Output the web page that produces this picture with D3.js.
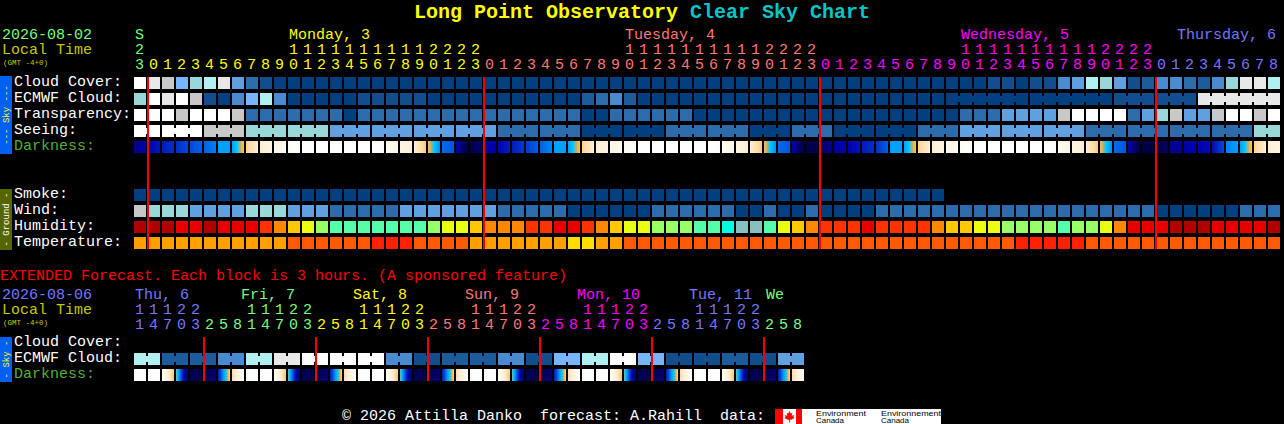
<!DOCTYPE html>
<html>
<head>
<meta charset="utf-8">
<script src="https://cdn.jsdelivr.net/npm/d3@7/dist/d3.min.js"></script>
<style>
html,body{margin:0;padding:0;background:#000;overflow:hidden}
svg{display:block}
text{font-family:"Liberation Mono","DejaVu Sans Mono",monospace;white-space:pre}
</style>
</head>
<body>
<script>
// ---------- DATA (levels) ----------
const hours = [23,0,1,2,3,4,5,6,7,8,9,10,11,12,13,14,15,16,17,18,19,20,21,22,23,
  0,1,2,3,4,5,6,7,8,9,10,11,12,13,14,15,16,17,18,19,20,21,22,23,
  0,1,2,3,4,5,6,7,8,9,10,11,12,13,14,15,16,17,18,19,20,21,22,23,
  0,1,2,3,4,5,6,7,8];
const hourDayCounts = [1,24,24,24,9];
const dayNames = ["S","Monday, 3","Tuesday, 4","Wednesday, 5","Thursday, 6"];
const dayCols = [0,11,35,59,74.43];

const extHours = [11,14,17,20,23,2,5,8,11,14,17,20,23,2,5,8,11,14,17,20,23,2,5,8,
  11,14,17,20,23,2,5,8,11,14,17,20,23,2,5,8,11,14,17,20,23,2,5,8];
const extHourDayCounts = [5,8,8,8,8,8,3];
const extDayNames = ["Thu, 6","Fri, 7","Sat, 8","Sun, 9","Mon, 10","Tue, 11","We"];
const extDayCols = [0,7.57,15.57,23.57,31.57,39.57,45.07];

const cloudCover = [11,10,9,6,7,8,10,5,3,1,
  0,0,0,0,0,0,0,0,0,0,0,0,0,0,0,0,0,0,0,0,0,0,0,0,0,0,0,0,0,0,0,0,0,0,0,0,0,0,0,0,0,0,0,0,0,0,0,0,0,0,
  0,1,1,0,1,1,4,5,8,7,5,1,2,4,4,3,2,4,7,10,10,8];
const ecmwfCloud = [7,11,10,11,9,1,0,4,6,8,4,0,0,0,0,0,1,1,1,1,1,
  0,0,0,0,0,0,0,0,0,0,0,2,3,4,2,
  0,0,0,0,0,0,0,0,0,0,0,0,0,0,0,0,0,0,0,0,0,0,
  0,0,0,0,0,0,0,0,0,0,0,0,1,1,1,1,1,1,10,10,10,10,10,10];
const ecmwfGroupSizes = [1,1,1,1,1,1,1,1,1,1,1,1,1,1,1,1,1,1,1,1,1,1,1,1,1,1,1,1,1,1,1,1,1,1,1,1,1,1,1,1,1,1,1,1,1,1,1,1,1,1,1,1,1,1,1,1,1,1,6,6,3,3,6];
const transparency = [11,11,11,9,11,11,11,9,3,3,3,3,3,3,3,0,
  3,3,3,3,3,3,3,3,3,3,3,3,3,3,3,3,0,0,3,3,3,3,3,3,
  0,0,0,0,0,0,0,0,0,0,0,0,0,0,0,0,0,0,0,
  3,3,3,5,5,5,5,9,11,11,11,11,3,5,7,9,5,5,9,11,11,9,11];
const seeingGroupSizes = [2,3,3,3,3,3,3,3,3,3,3,3,3,3,3,3,3,3,3,3,3,3,3,3,3,3,3,2];
const seeingGroupValues = [11,11,9,7,7,5,5,5,5,3,3,0,0,3,3,0,3,0,0,3,5,5,5,3,3,3,3,7];
const darkStart = [1.8,3,3.5,4,4.5,5,6,6,8.8,10,10.8,11.5,12,12,12,12,12,12,11.5,10.8,10,8.4,5.2,3,0.2,
  2.5,3,3.6,4.2,5,6,6,8.8,10,10.8,11.5,12,12,12,12,12,12,11.5,10.8,10,8.4,5.2,3,0,
  1,2.5,3,3.5,4,6,6,8.8,10,10.8,11.5,12,12,12,12,12,12,11.5,10.8,10,8.4,5.2,3,0,
  0.5,2,2.8,3,3.2,5.5,6,8.8,10];
const darkEnd = [2.8,3.5,4,4.5,5,5.5,6,8.5,10,10.5,11.4,11.9,12,12,12,12,12,11.5,10.8,10,8.6,5.6,4.8,0,1.5,
  3,3.6,4.2,5,5.6,6,8.5,10,10.6,11.4,11.9,12,12,12,12,12,11.5,10.8,10,8.6,5.6,4.8,0,0.5,
  2,3,3.4,4,5,6,8.5,10,10.6,11.4,11.9,12,12,12,12,12,11.5,10.8,10,8.6,5.6,4.8,0,0.3,
  1,2.2,3,3.2,4.5,6,8.5,10,10.6];
const smoke = [0,0,0,0,0,0,0,0,0,0,0,0,0,0,0,0,0,0,0,0,0,0,0,0,0,0,0,0,0,
  0,0,0,0,0,0,0,0,0,0,0,0,0,0,0,0,0,0,0,0,0,0,0,0,0,0,0,0,0];
const wind = [9,7,7,7,5,5,5,5,7,7,7,5,5,5,3,3,3,3,3,5,5,5,5,5,5,5,3,3,3,3,3,
  0,0,0,0,0,0,3,3,3,3,3,3,0,0,3,0,0,3,0,0,0,0,
  3,3,3,3,3,3,3,3,3,3,3,3,3,3,3,3,3,3,3,3,0,0,0,0,0,0,3,3,3];
const humidity = [0,0,0,1,1,0,1,1,1,2,3,4,5,6,7,7,7,7,7,7,7,
  6,5,5,4,3,3,3,2,2,1,1,2,3,4,5,5,6,6,6,7,7,8,9,9,7,5,4,3,2,2,2,
  1,2,2,2,2,3,4,4,5,5,6,6,6,6,7,6,6,5,3,1,1,1,0,0,0,1,1,1,1,0];
const temperature = [2,2,2,2,2,2,2,2,2,2,2,1,1,1,1,1,1,0,0,0,1,1,1,1,2,2,2,2,2,2,2,3,3,2,2,
  1,1,1,1,1,1,1,1,1,1,1,1,1,1,1,1,1,1,1,1,1,1,1,1,1,1,1,1,
  0,0,0,0,0,1,1,1,1,1,1,1,1,1,1,1,1,1,1];

const extEcmwf = [8,8,2,2,2,2,4,4,8,8,10,10,11,11,11,11,11,11,4,4,1,1,2,2,
  2,2,4,4,1,1,6,6,8,8,11,11,6,6,1,1,1,1,2,2,1,1,5,5];
const extDarkStart = [12,12,12,7.6,0.5,0.5,3.5,9.2,12,12,12,7.6,0.5,0.5,3.5,9.2,12,12,12,7.6,0.5,0.5,3.5,9.2,
  12,12,12,7.6,0.5,0.5,3.5,9.2,12,12,12,7.6,0.5,0.5,3.5,9.2,12,12,12,7.6,0.5,0.5,3.5,9.2];
const extDarkEnd = [12,12,8.4,0.6,0.5,1.5,8.8,12,12,12,8.4,0.6,0.5,1.5,8.8,12,12,12,8.4,0.6,0.5,1.5,8.8,12,
  12,12,8.4,0.6,0.5,1.5,8.8,12,12,12,8.4,0.6,0.5,1.5,8.8,12,12,12,8.4,0.6,0.5,1.5,8.8,11.5];

const rowLabels = ["Cloud Cover:","ECMWF Cloud:","Transparency:","Seeing:","Darkness:"];
const groundLabels = ["Smoke:","Wind:","Humidity:","Temperature:"];
const extLabels = ["Cloud Cover:","ECMWF Cloud:","Darkness:"];

// ---------- COLOURS ----------
const cloudColors = ["#004080","#124e8e","#1c5c9c","#2c6cac","#4a8ad0","#60a0e0","#77b5ff","#99d8d8","#b0f0f0","#c8c8c8","#e8e8e8","#ffffff"];
const humidityColors = ["#b00000","#e80000","#ff3300","#ff8800","#ffc800","#eaff10","#99ff66","#55ffaa","#00ffe0","#88c0c0"];
const temperatureColors = ["#ff2000","#ff5a00","#ffa000","#ffdd00"];
const darkColors = ["#000040","#000060","#000090","#0000b0","#0030c8","#0060e8","#00a0ff","#00c8ff","#f0b040","#ffd8a0","#ffeed4","#fff6ea","#ffffff"];
const dayColors = ["#77ff77","#ffff00","#ff7777","#ff00ff","#7777ff"];
const extDayColors = ["#7777ff","#77ff77","#ffff00","#ff7777","#ff00ff","#7777ff","#77ff77"];

const cloudScale = d3.scaleOrdinal(d3.range(12), cloudColors);
const humidityScale = d3.scaleOrdinal(d3.range(10), humidityColors);
const temperatureScale = d3.scaleOrdinal(d3.range(4), temperatureColors);
const darkScale = d3.scaleLinear().domain(d3.range(13)).range(darkColors).interpolate(d3.interpolateRgb);

// ---------- LAYOUT ----------
const W = 1284, H = 424;
const STEP = 14, CELL = 12;
const x0 = 134;
const xMain = d3.scaleBand().domain(d3.range(hours.length)).range([x0, x0 + STEP*hours.length - (STEP-CELL)]).paddingInner((STEP-CELL)/STEP);
const xExt = d3.scaleBand().domain(d3.range(extHours.length)).range([x0, x0 + STEP*extHours.length - (STEP-CELL)]).paddingInner((STEP-CELL)/STEP);
const colX = d3.scaleLinear().domain([0,1]).range([x0, x0+STEP]);
const yRow = d3.scaleLinear().domain([0,1]).range([77,93]);

const svg = d3.select("body").append("svg").attr("width",W).attr("height",H).attr("viewBox",`0 0 ${W} ${H}`);
svg.append("rect").attr("width",W).attr("height",H).attr("fill","#000");
const defs = svg.append("defs");

function txt(s,x,y,fill,size=15,attrs={}){
  const t = svg.append("text").attr("x",x).attr("y",y).attr("fill",fill).attr("font-size",size).text(s);
  for(const k in attrs) t.attr(k,attrs[k]);
  return t;
}

function rowCells(values, xs, y, colorFn){
  svg.append("g").selectAll("rect").data(values).join("rect")
    .attr("x",(d,i)=>xs(i)).attr("y",y).attr("width",xs.bandwidth()).attr("height",CELL)
    .attr("fill",(d,i)=>colorFn(d,i)).attr("shape-rendering","crispEdges");
}
function connectors(sizes, xs, y, colorFn){
  let c = 0;
  sizes.forEach(n=>{
    for(let i=0;i<n-1;i++){
      svg.append("rect").attr("x",xs(c+i)+CELL).attr("y",y+3).attr("width",STEP-CELL).attr("height",6)
        .attr("fill",colorFn(c+i)).attr("shape-rendering","crispEdges");
    }
    c += n;
  });
}
let gradId = 0;
function darkRow(starts, ends, xs, y){
  const g = svg.append("g");
  starts.forEach((s,i)=>{
    const id = "dk"+(gradId++);
    const grad = defs.append("linearGradient").attr("id",id);
    const v = d3.scaleLinear().domain([0,1]).range([s,ends[i]]);
    d3.range(0,1.001,0.1).forEach(t=>{
      grad.append("stop").attr("offset",t).attr("stop-color",darkScale(v(t)));
    });
    g.append("rect").attr("x",xs(i)).attr("y",y).attr("width",CELL).attr("height",CELL)
      .attr("fill",`url(#${id})`).attr("shape-rendering","crispEdges");
  });
}
function hourRows(hrs, counts, colors, xs, yTens, yUnits){
  const colorOf = [];
  counts.forEach((n,k)=>{ for(let i=0;i<n;i++) colorOf.push(colors[k]); });
  hrs.forEach((h,i)=>{
    if(h>=10) txt(String(Math.floor(h/10)), xs(i)+1, yTens, colorOf[i]);
    txt(String(h%10), xs(i)+1, yUnits, colorOf[i]);
  });
}
function sideBand(y0,y1,fill,textFill,label){
  svg.append("rect").attr("x",0).attr("y",y0).attr("width",12).attr("height",y1-y0).attr("fill",fill).attr("shape-rendering","crispEdges");
  const cy = (y0+y1)/2;
  svg.append("text").attr("transform",`translate(9,${cy}) rotate(-90)`).attr("text-anchor","middle")
    .attr("fill",textFill).attr("font-size",9).text(label);
}

// ---------- TITLE ----------
const title = svg.append("text").attr("x",414).attr("y",18).attr("font-size",20).attr("font-weight","bold");
title.append("tspan").attr("fill","#ffff00").text("Long Point Observatory ");
title.append("tspan").attr("fill","#00c8c8").text("Clear Sky Chart");

// ---------- MAIN HEADER ----------
txt("2026-08-02",2,39,"#77ff77");
txt("Local Time",2,54,"#c8c800");
txt("(GMT -4+0)",3,65,"#c8c800",7.5);
dayNames.forEach((n,i)=>txt(n,colX(dayCols[i])+1,39,dayColors[i]));
hourRows(hours,hourDayCounts,dayColors,xMain,54,69);

// ---------- MAIN GRID ----------
sideBand(76,154,"#0060f0","#ffff00","--- Sky ---");
sideBand(189,250,"#556600","#ffffff","- Ground -");

rowLabels.forEach((l,i)=>txt(l,14,yRow(i)+8.5,i===4?"#55b030":"#ffffff"));
groundLabels.forEach((l,i)=>txt(l,14,yRow(7)+8.5+yRow(i)-yRow(0),"#ffffff"));

rowCells(cloudCover,xMain,yRow(0),d=>cloudScale(d));
connectors(ecmwfGroupSizes,xMain,yRow(1),i=>cloudScale(ecmwfCloud[i]));
rowCells(ecmwfCloud,xMain,yRow(1),d=>cloudScale(d));
rowCells(transparency,xMain,yRow(2),d=>cloudScale(d));
const seeing = seeingGroupSizes.flatMap((n,k)=>d3.range(n).map(()=>seeingGroupValues[k]));
connectors(seeingGroupSizes,xMain,yRow(3),i=>cloudScale(seeing[i]));
rowCells(seeing,xMain,yRow(3),d=>cloudScale(d));
darkRow(darkStart,darkEnd,xMain,yRow(4));

rowCells(smoke,xMain,yRow(7),d=>cloudScale(d));
rowCells(wind,xMain,yRow(8),d=>cloudScale(d));
rowCells(humidity,xMain,yRow(9),d=>humidityScale(d));
rowCells(temperature,xMain,yRow(10),d=>temperatureScale(d));

// midnight lines
hours.forEach((h,i)=>{ if(h===0){
  svg.append("rect").attr("x",xMain(i)-1).attr("y",77).attr("width",2).attr("height",172).attr("fill","#f80000").attr("shape-rendering","crispEdges");
}});

// ---------- EXTENDED ----------
txt("EXTENDED Forecast. Each block is 3 hours. (A sponsored feature)",0,280,"#ff0000");
txt("2026-08-06",2,299,"#7777ff");
txt("Local Time",2,314,"#c8c800");
txt("(GMT -4+0)",3,325,"#c8c800",7.5);
extDayNames.forEach((n,i)=>txt(n,colX(extDayCols[i])+1,299,extDayColors[i]));
hourRows(extHours,extHourDayCounts,extDayColors,xExt,314,329);

const yExt = d3.scaleLinear().domain([0,1]).range([337,353]);
sideBand(337,382,"#0060f0","#ffff00","- Sky -");
extLabels.forEach((l,i)=>txt(l,14,yExt(i)+8.5,i===2?"#55b030":"#ffffff"));
const extSizes = d3.range(extEcmwf.length/2).map(()=>2);
connectors(extSizes,xExt,yExt(1),i=>cloudScale(extEcmwf[i]));
rowCells(extEcmwf,xExt,yExt(1),d=>cloudScale(d));
darkRow(extDarkStart,extDarkEnd,xExt,yExt(2));
extHours.forEach((h,i)=>{ if(i>0 && h<extHours[i-1]){
  svg.append("rect").attr("x",xExt(i)-1).attr("y",337).attr("width",2).attr("height",44).attr("fill","#f80000").attr("shape-rendering","crispEdges");
}});

// ---------- FOOTER ----------
txt("\u00a9 2026 Attilla Danko  forecast: A.Rahill  data:",342,420,"#ffffff");
svg.append("rect").attr("x",775).attr("y",409).attr("width",166).attr("height",15).attr("fill","#fff");
svg.append("rect").attr("x",775).attr("y",409).attr("width",8).attr("height",15).attr("fill","#ff0000");
svg.append("rect").attr("x",796).attr("y",409).attr("width",6).attr("height",15).attr("fill","#ff0000");
svg.append("path").attr("transform","translate(789.5,416.5)")
  .attr("d","M0,-5.5 L1.3,-3 L2.8,-3.6 L2.2,-0.8 L4.8,-1.6 L4,0.6 L5,1.4 L1.6,3.2 L0.4,3.2 L0.4,6 L-0.4,6 L-0.4,3.2 L-1.6,3.2 L-5,1.4 L-4,0.6 L-4.8,-1.6 L-2.2,-0.8 L-2.8,-3.6 L-1.3,-3 Z")
  .attr("fill","#ff0000");
[["Environment",50,"Canada",28,816],["Environnement",60,"Canada",28,881]].forEach(([a,aw,b,bw,x])=>{
  [[a,aw],[b,bw]].forEach(([s,w],i)=>{
    svg.append("text").attr("x",x).attr("y",415.5+i*7.5).attr("fill","#000").attr("font-size",7)
      .attr("textLength",w).attr("lengthAdjust","spacingAndGlyphs")
      .style("font-family","'Liberation Sans',sans-serif").text(s);
  });
});
</script>
</body>
</html>
